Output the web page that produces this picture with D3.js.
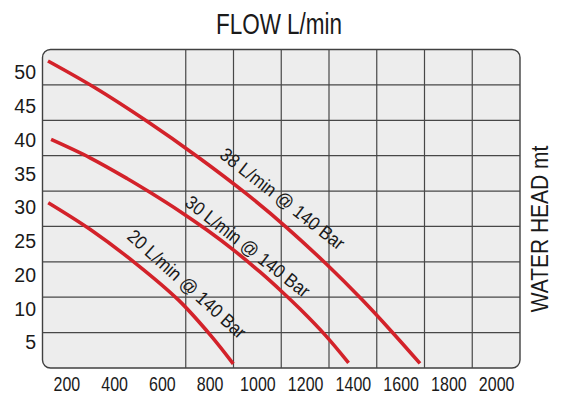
<!DOCTYPE html>
<html lang="en">
<head>
<meta charset="UTF-8">
<title>Flow / water head</title>
<script src="https://d3js.org/d3.v7.min.js"></script>
<style>
    body { margin: 0; padding: 0; background: #fff; }
    svg text { font-family: "Liberation Sans", Arial, sans-serif; fill: #1a1a1a; }
</style>
</head>
<body>
<div id="chart"></div>
<script>
    // axis labels
    const xTicks = [200, 400, 600, 800, 1000, 1200, 1400, 1600, 1800, 2000];
    const xGrid = [700, 900, 1100, 1300, 1500, 1700, 1900];
    const yLabels = ["50", "45", "40", "35", "30", "25", "20", "10", "5"];

    // curves (flow, head)
    const names = ["38 L/min @ 140 Bar", "30 L/min @ 140 Bar", "20 L/min @ 140 Bar"];
    const flow38 = [123, 320, 538, 751, 956, 1124, 1291, 1438, 1564, 1681];
    const head38 = [51.6, 47.63, 42.66, 37.37, 31.86, 26.88, 21.43, 16.24, 11.44, 6.78];
    const flow30 = [136, 299, 454, 550, 676, 789, 902, 1011, 1103, 1179, 1287, 1382];
    const head30 = [39.97, 37.25, 34.19, 32.14, 29.3, 26.54, 23.53, 20.33, 17.4, 14.83, 10.86, 6.86];
    const flow20 = [124, 299, 495, 669, 806, 899];
    const head20 = [30.6, 26.66, 21.47, 16.19, 10.86, 6.71];

    // where the curve names sit (flow, head)
    const labelFlow = [1105, 959, 704];
    const labelHead = [31.15, 24.08, 18.52];

    const W = 569, H = 405;
    const panel = { left: 42.5, right: 520, top: 49.5, bottom: 368 };
    const red = "#d3222a";

    const svg = d3.select("#chart").append("svg")
        .attr("width", W).attr("height", H);

    const x = d3.scaleLinear().domain([100, 2100]).range([panel.left, panel.right]);
    const y = d3.scaleLinear().domain([53.3, 6.1]).range([panel.top, panel.bottom]);
    const yLab = d3.scalePoint().domain(yLabels).range([y(50), y(10)]);
    const rows = d3.scaleLinear().domain([0, 9]).range([panel.top, panel.bottom]);

    // panel
    svg.append("rect")
        .attr("x", panel.left).attr("y", panel.top)
        .attr("width", panel.right - panel.left)
        .attr("height", panel.bottom - panel.top)
        .attr("rx", 8)
        .attr("fill", "#ededed")
        .attr("stroke", "#404040")
        .attr("stroke-width", 1.4);

    // grid
    svg.append("g").selectAll("line")
        .data(d3.range(1, 9))
        .join("line")
        .attr("x1", panel.left).attr("x2", panel.right)
        .attr("y1", d => rows(d)).attr("y2", d => rows(d))
        .attr("stroke", "#474747").attr("stroke-width", 1.2);

    svg.append("g").selectAll("line")
        .data(xGrid)
        .join("line")
        .attr("x1", d => x(d)).attr("x2", d => x(d))
        .attr("y1", panel.top).attr("y2", panel.bottom)
        .attr("stroke", "#474747").attr("stroke-width", 1.2);

    // curves
    const series = [
        d3.zip(flow38, head38),
        d3.zip(flow30, head30),
        d3.zip(flow20, head20)
    ];
    const line = d3.line()
        .x(d => x(d[0]))
        .y(d => y(d[1]))
        .curve(d3.curveCatmullRom.alpha(0.5));

    svg.append("g").selectAll("path")
        .data(series)
        .join("path")
        .attr("d", line)
        .attr("fill", "none")
        .attr("stroke", red)
        .attr("stroke-width", 3.6);

    // curve names
    const angles = [38, 38, 42];
    svg.append("g").selectAll("text")
        .data(names)
        .join("text")
        .attr("transform", (d, i) => `translate(${x(labelFlow[i])},${y(labelHead[i])}) rotate(${angles[i]}) scale(0.9,1)`)
        .attr("text-anchor", "middle")
        .attr("dominant-baseline", "central")
        .attr("font-size", 19)
        .text(d => d);

    // axes
    const xAxis = svg.append("g")
        .attr("transform", `translate(0,${panel.bottom})`)
        .call(d3.axisBottom(x).tickValues(xTicks).tickFormat(d3.format("d")).tickSize(0).tickPadding(9));
    xAxis.select(".domain").remove();
    xAxis.selectAll("text")
        .attr("font-size", 19.5)
        .attr("fill", "#1a1a1a")
        .attr("transform", "scale(0.82,1)");

    const yAxis = svg.append("g")
        .attr("transform", "translate(36,0)")
        .call(d3.axisLeft(yLab).tickSize(0).tickPadding(0));
    yAxis.select(".domain").remove();
    yAxis.selectAll("text")
        .attr("font-size", 19.5)
        .attr("dy", "0.37em")
        .attr("fill", "#1a1a1a");

    // titles
    svg.append("text")
        .attr("transform", "translate(279,34) scale(0.75,1)")
        .attr("text-anchor", "middle")
        .attr("font-size", 30)
        .text("FLOW L/min");

    svg.append("text")
        .attr("transform", "translate(548,229) rotate(-90) scale(0.9,1)")
        .attr("text-anchor", "middle")
        .attr("font-size", 23.3)
        .text("WATER HEAD mt");
</script>
</body>
</html>
